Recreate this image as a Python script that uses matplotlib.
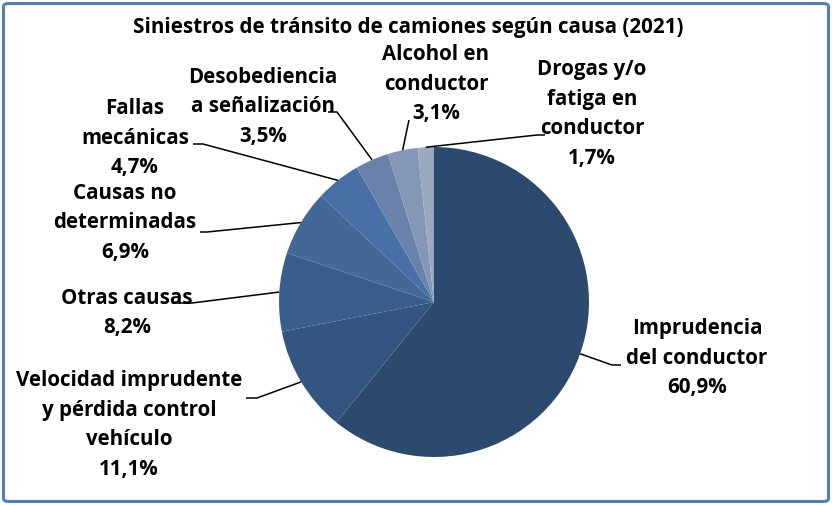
import matplotlib
matplotlib.use("Agg")
import matplotlib.pyplot as plt
from matplotlib.patches import FancyBboxPatch
import numpy as np

# ---- data ----
categories = [
    "Imprudencia\ndel conductor",
    "Velocidad imprudente\ny pérdida control\nvehículo",
    "Otras causas",
    "Causas no\ndeterminadas",
    "Fallas\nmecánicas",
    "Desobediencia\na señalización",
    "Alcohol en\nconductor",
    "Drogas y/o\nfatiga en\nconductor",
]
values = [60.9, 11.1, 8.2, 6.9, 4.7, 3.5, 3.1, 1.7]
value_labels = ["60,9%", "11,1%", "8,2%", "6,9%", "4,7%", "3,5%", "3,1%", "1,7%"]
title = "Siniestros de tránsito de camiones según causa (2021)"

colors = ['#2C4A6E', '#34557F', '#3A5E8B', '#416897', '#4870A4', '#6A82AA', '#8597B6', '#9CA8C0']

# ---- layout (pixel space, image y from top) ----
W, H = 832, 505
cx, cy, R = 434, 302, 155
label_centers = [(697, 358), (129, 425), (127, 313), (125, 223), (135, 138),
                 (263, 107), (436, 84), (592, 114)]
elbows = [(612, 365), (257, 398), (192, 303), (207, 232), (203, 144),
          (337, 112), (409, 120), (537, 135)]
stub_ends = [621, 246, 172, 200, 193, 328, 409, 545]
line_gap = 29.5
title_width_px = 551
ref_label_width_px = 226   # width of "Velocidad imprudente"

fig = plt.figure(figsize=(W / 100, H / 100), dpi=100)
ax = fig.add_axes([0, 0, 1, 1])

def Y(y):
    return H - y

wedges, _ = ax.pie(values, colors=colors, startangle=90, counterclock=False,
                   center=(cx, Y(cy)), radius=R, frame=True,
                   wedgeprops=dict(linewidth=0))
ax.set_xlim(0, W)
ax.set_ylim(0, H)
ax.set_aspect('equal')
ax.axis('off')

font = dict(family=['Open Sans', 'DejaVu Sans'], fontweight='bold', color='black')
renderer = fig.canvas.get_renderer()

def fit_size(text, target, base=12):
    t = fig.text(0, 0, text, fontsize=base, **font)
    w = t.get_window_extent(renderer).width
    t.remove()
    return base * target / w

title_size = fit_size(title, title_width_px)
label_size = fit_size("Velocidad imprudente", ref_label_width_px)

ax.text(408, Y(28), title, ha='center', va='center', fontsize=title_size, **font)

for i, w in enumerate(wedges):
    mid = np.deg2rad((w.theta1 + w.theta2) / 2)
    ex = cx + R * np.cos(mid)
    ey = Y(cy) + R * np.sin(mid)
    bx, by = elbows[i]
    ax.plot([ex, bx, stub_ends[i]], [ey, Y(by), Y(by)], color='black', lw=1.1,
            solid_capstyle='butt')
    lines = categories[i].split("\n") + [value_labels[i]]
    lx, lyc = label_centers[i]
    n = len(lines)
    for j, t in enumerate(lines):
        ly = lyc + (j - (n - 1) / 2) * line_gap
        ax.text(lx, Y(ly), t, ha='center', va='center', fontsize=label_size, **font)

border = FancyBboxPatch((3.5 / W, 3.5 / H), 1 - 7 / W, 1 - 7 / H,
                        boxstyle="round,pad=0,rounding_size=0.006",
                        transform=fig.transFigure, fill=False,
                        edgecolor='#4F81BD', linewidth=2.2)
fig.patches.append(border)

fig.savefig("out.png", dpi=100)
